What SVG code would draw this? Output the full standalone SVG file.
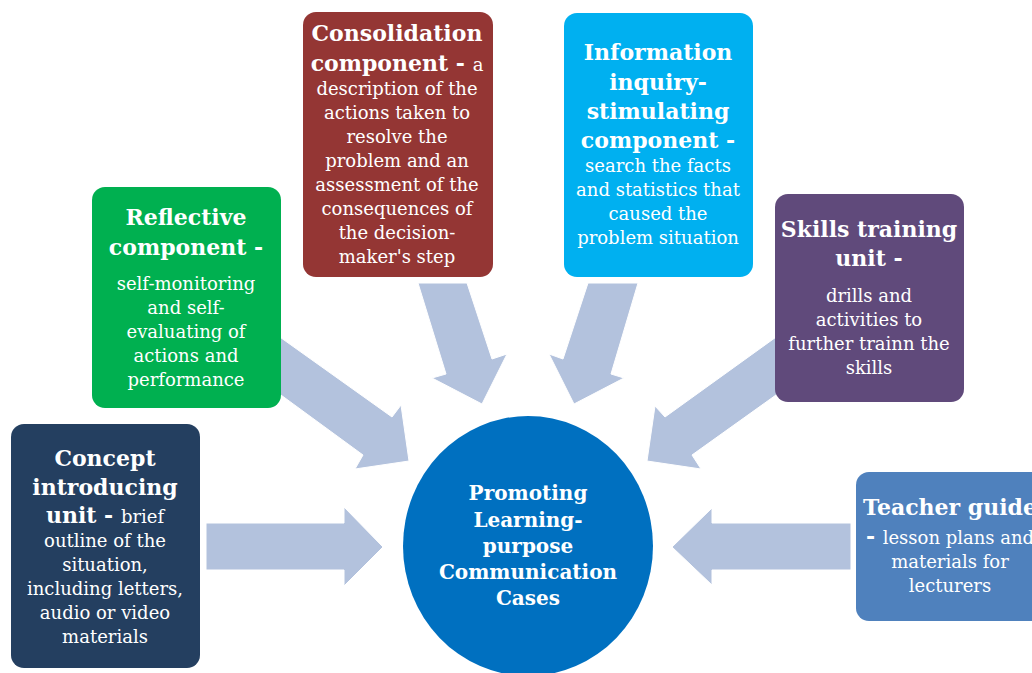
<svg xmlns="http://www.w3.org/2000/svg" width="1032" height="673" viewBox="0 0 1032 673">
<style>
.t{font-family:"DejaVu Serif","Liberation Serif",serif;fill:#fff;text-anchor:middle}
.h{font-size:22px;font-weight:bold}
.c{font-size:20px;font-weight:bold}
.b{font-size:18px;font-weight:normal}
.arrow{fill:#b3c2dd;stroke:#fff;stroke-width:1}
</style>
<rect width="1032" height="673" fill="#fff"/>
<g id="connectors">
<polygon class="arrow" points="206,523 344,523 344,507 383,547 344,586 344,570 206,570"/>
<polygon class="arrow" points="851,523 712,523 712,508 672,547 712,585 712,570 851,570"/>
<polygon class="arrow" points="270,330 392,417 401,405 409,461 355,469 363,455 270,387"/>
<polygon class="arrow" points="418,283 467,283 492,359 507,354 482,404 432,378 446,374"/>
<polygon class="arrow" points="588,283 638,283 611,374 624,378 574,404 549,354 563,359"/>
<polygon class="arrow" points="790,327 665,417 655,406 647,461 701,469 692,455 790,385"/>
</g>
<g id="center">
<ellipse cx="528" cy="546" rx="125" ry="130" fill="#0070c0"/>
<text class="t c"><tspan x="528" y="500">Promoting</tspan><tspan x="528" y="527">Learning-</tspan><tspan x="528" y="553">purpose</tspan><tspan x="528" y="579">Communication</tspan><tspan x="528" y="605">Cases</tspan></text>
</g>
<g id="concept">
<rect x="11" y="424" width="189" height="244" rx="13" fill="#243f60"/>
<text class="t h"><tspan x="105" y="466">Concept</tspan><tspan x="105" y="495">introducing</tspan><tspan x="105" y="523">unit - <tspan class="b">brief</tspan></tspan></text>
<text class="t b"><tspan x="105" y="547">outline of the</tspan><tspan x="105" y="571">situation,</tspan><tspan x="105" y="595">including letters,</tspan><tspan x="105" y="619">audio or video</tspan><tspan x="105" y="643">materials</tspan></text>
</g>
<g id="reflective">
<rect x="92" y="187" width="189" height="221" rx="13" fill="#00b050"/>
<text class="t h"><tspan x="186" y="225">Reflective</tspan><tspan x="186" y="255">component -</tspan></text>
<text class="t b"><tspan x="186" y="290">self-monitoring</tspan><tspan x="186" y="314">and self-</tspan><tspan x="186" y="338">evaluating of</tspan><tspan x="186" y="362">actions and</tspan><tspan x="186" y="386">performance</tspan></text>
</g>
<g id="consolidation">
<rect x="303" y="12" width="190" height="265" rx="13" fill="#943634"/>
<text class="t h"><tspan x="397" y="41">Consolidation</tspan><tspan x="397" y="71">component - <tspan class="b">a</tspan></tspan></text>
<text class="t b"><tspan x="397" y="95">description of the</tspan><tspan x="397" y="119">actions taken to</tspan><tspan x="397" y="143">resolve the</tspan><tspan x="397" y="167">problem and an</tspan><tspan x="397" y="191">assessment of the</tspan><tspan x="397" y="215">consequences of</tspan><tspan x="397" y="239">the decision-</tspan><tspan x="397" y="263">maker's step</tspan></text>
</g>
<g id="information">
<rect x="564" y="13" width="189" height="264" rx="13" fill="#00b0f0"/>
<text class="t h"><tspan x="658" y="60">Information</tspan><tspan x="658" y="90">inquiry-</tspan><tspan x="658" y="119">stimulating</tspan><tspan x="658" y="148">component -</tspan></text>
<text class="t b"><tspan x="658" y="172">search the facts</tspan><tspan x="658" y="196">and statistics that</tspan><tspan x="658" y="220">caused the</tspan><tspan x="658" y="244">problem situation</tspan></text>
</g>
<g id="skills">
<rect x="775" y="194" width="189" height="208" rx="13" fill="#604a7b"/>
<text class="t h"><tspan x="869" y="237">Skills training</tspan><tspan x="869" y="266">unit -</tspan></text>
<text class="t b"><tspan x="869" y="302">drills and</tspan><tspan x="869" y="326">activities to</tspan><tspan x="869" y="350">further trainn the</tspan><tspan x="869" y="374">skills</tspan></text>
</g>
<g id="teacher">
<rect x="856" y="472" width="190" height="149" rx="13" fill="#4f81bd"/>
<text class="t h"><tspan x="950" y="515">Teacher guide</tspan><tspan x="950" y="544">- <tspan class="b">lesson plans and</tspan></tspan></text>
<text class="t b"><tspan x="950" y="568">materials for</tspan><tspan x="950" y="592">lecturers</tspan></text>
</g>
</svg>
